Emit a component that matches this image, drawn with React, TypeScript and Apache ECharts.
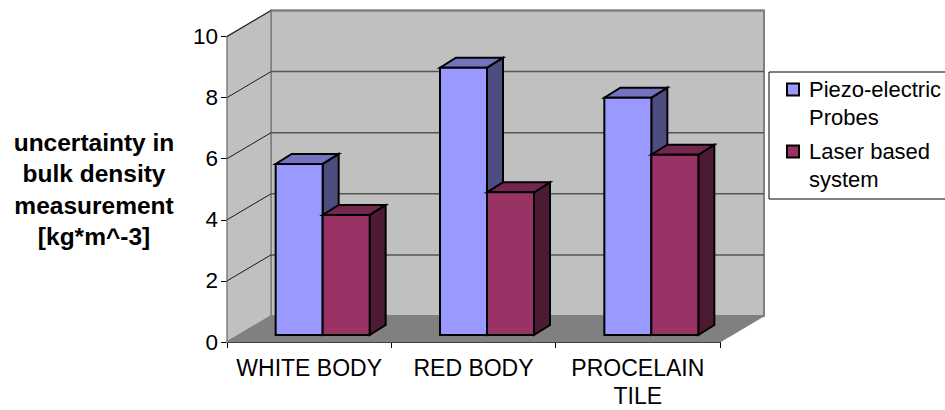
import React, { useEffect, useRef } from "react";
import * as echarts from "echarts";

const categories = ["WHITE BODY", "RED BODY", "PROCELAIN\nTILE"];
const yTicks = [0, 2, 4, 6, 8, 10];
const piezoName = "Piezo-electric\nProbes";
const laserName = "Laser based\nsystem";
const piezoValues = [5.6, 8.75, 7.77];
const laserValues = [3.93, 4.67, 5.9];

const FONT = '"Liberation Sans", Arial, sans-serif';
// Oblique offset from the front plane of the box to its back wall.
const DEPTH_X = 44;
const DEPTH_Y = -26;
// Offset and size of the bars inside the box.
const BAR_DX = 13.5;
const BAR_DY = -7;
const BAR_W = 47;
const BAR_SIDE_X = 16;
const BAR_SIDE_Y = -10;
const BAR_OUTLINE = 2;

const poly = (points: number[][], fill: string, stroke: string, lineWidth: number) => ({
  type: "polygon",
  shape: { points },
  style: { fill, stroke, lineWidth, lineJoin: "miter" },
});

const segment = (a: number[], b: number[], stroke: string, lineWidth: number) => ({
  type: "line",
  shape: { x1: a[0], y1: a[1], x2: b[0], y2: b[1] },
  style: { stroke, lineWidth },
});

function bounds(params: any) {
  const g = params.coordSys;
  return { left: g.x, right: g.x + g.width, top: g.y, bottom: g.y + g.height };
}

// Floor, back wall and side wall of the box.
function renderBox(params: any) {
  const { left, right, top, bottom } = bounds(params);
  return {
    type: "group",
    silent: true,
    children: [
      poly(
        [[left + DEPTH_X, bottom + DEPTH_Y], [right + DEPTH_X, bottom + DEPTH_Y], [right + DEPTH_X, top + DEPTH_Y], [left + DEPTH_X, top + DEPTH_Y]],
        "#C0C0C0", "#808080", 2,
      ),
      poly(
        [[left, bottom], [left + DEPTH_X, bottom + DEPTH_Y], [left + DEPTH_X, top + DEPTH_Y], [left, top]],
        "#C0C0C0", "#808080", 1.5,
      ),
      poly(
        [[left, bottom], [right, bottom], [right + DEPTH_X, bottom + DEPTH_Y], [left + DEPTH_X, bottom + DEPTH_Y]],
        "#808080", "#808080", 1,
      ),
    ],
  };
}

// One grid line per tick value: the slanted part on the side wall, the level part on the back wall.
function renderGridLine(params: any, api: any) {
  const value = api.value(0);
  if (value === 0) return { type: "group", children: [] };
  const { left, right } = bounds(params);
  const y = api.coord([0, value])[1];
  return {
    type: "group",
    silent: true,
    children: [
      segment([left, y], [left + DEPTH_X, y + DEPTH_Y], "#1a1a1a", 1),
      segment([left + DEPTH_X, y + DEPTH_Y], [right + DEPTH_X, y + DEPTH_Y], value === 10 ? "#808080" : "#555555", value === 10 ? 2 : 1.5),
    ],
  };
}

function makeBarRenderer(slot: number, front: string, topFace: string, sideFace: string) {
  return (params: any, api: any) => {
    const catIndex = api.value(0);
    const value = api.value(1);
    const centre = api.coord([catIndex, 0]);
    const valuePoint = api.coord([catIndex, value]);
    const x0 = centre[0] + BAR_DX - BAR_W + slot * BAR_W;
    const x1 = x0 + BAR_W;
    const yBase = centre[1] + BAR_DY;
    const yTop = valuePoint[1] + BAR_DY;
    return {
      type: "group",
      silent: true,
      children: [
        poly([[x1, yBase], [x1 + BAR_SIDE_X, yBase + BAR_SIDE_Y], [x1 + BAR_SIDE_X, yTop + BAR_SIDE_Y], [x1, yTop]], sideFace, "#000000", BAR_OUTLINE),
        poly([[x0, yTop], [x1, yTop], [x1 + BAR_SIDE_X, yTop + BAR_SIDE_Y], [x0 + BAR_SIDE_X, yTop + BAR_SIDE_Y]], topFace, "#000000", BAR_OUTLINE),
        poly([[x0, yBase], [x1, yBase], [x1, yTop], [x0, yTop]], front, "#000000", BAR_OUTLINE),
      ],
    };
  };
}

export default function App() {
  const ref = useRef<HTMLDivElement>(null);

  useEffect(() => {
    const chart = echarts.init(ref.current!, undefined, { renderer: "svg" });
    chart.setOption({
      animation: false,
      backgroundColor: "#FFFFFF",
      textStyle: { fontFamily: FONT },
      grid: { left: 227, right: 225, top: 36.5, bottom: 68, containLabel: false, outerBoundsMode: "none" },
      xAxis: {
        type: "category",
        data: categories,
        boundaryGap: true,
        axisLine: { show: true, onZero: false, lineStyle: { color: "#000000", width: 1 } },
        axisTick: { show: true, alignWithLabel: false, length: 6, lineStyle: { color: "#000000", width: 1 } },
        axisLabel: { interval: 0, color: "#000000", fontFamily: FONT, fontSize: 23, lineHeight: 28, margin: 12, hideOverlap: false },
        splitLine: { show: false },
      },
      yAxis: {
        type: "value",
        min: 0,
        max: 10,
        interval: 2,
        name: "uncertainty in\nbulk density\nmeasurement\n[kg*m^-3]",
        nameLocation: "middle",
        nameGap: 133,
        nameRotate: 0,
        nameMoveOverlap: false,
        nameTextStyle: { color: "#000000", fontFamily: FONT, fontSize: 24.5, fontWeight: "bold", lineHeight: 31.5, align: "center", verticalAlign: "middle" },
        axisLine: { show: true, lineStyle: { color: "#000000", width: 1 } },
        axisTick: { show: true, length: 6, lineStyle: { color: "#000000", width: 1 } },
        axisLabel: { color: "#000000", fontFamily: FONT, fontSize: 22.5, margin: 9 },
        splitLine: { show: false },
      },
      legend: {
        orient: "vertical",
        left: 786,
        top: 47.5,
        padding: 0,
        itemGap: -22,
        itemWidth: 17,
        itemHeight: 12,
        // The square keeps to the left of a wider icon box, which sets the gap before the text.
        icon: "path://M0 0H12V12H0ZM17 0L17 0",
        selectedMode: false,
        data: [piezoName, laserName],
        // The blank first line lifts each name so that its first line sits beside the square.
        formatter: (name: string) => "\n" + name,
        textStyle: { color: "#000000", fontFamily: FONT, fontSize: 22, lineHeight: 28 },
      },
      graphic: [
        {
          type: "rect",
          z: -1,
          shape: { x: 769, y: 72, width: 190, height: 127 },
          style: { fill: "#FFFFFF", stroke: "#000000", lineWidth: 1 },
        },
      ],
      series: [
        { type: "custom", silent: true, z: 1, renderItem: renderBox, data: [[0]], encode: { x: -1, y: -1 }, clip: false, legendHoverLink: false },
        { type: "custom", silent: true, z: 2, renderItem: renderGridLine, data: yTicks.map((v) => [v]), encode: { x: -1, y: 0 }, clip: false },
        {
          type: "custom",
          name: piezoName,
          z: 3,
          clip: false,
          itemStyle: { color: "#9999FF", borderColor: "#000000", borderWidth: 1.5 },
          renderItem: makeBarRenderer(0, "#9999FF", "#7373BF", "#4D4D80"),
          data: piezoValues.map((v, i) => [i, v]),
          encode: { x: 0, y: 1 },
        },
        {
          type: "custom",
          name: laserName,
          z: 3,
          clip: false,
          itemStyle: { color: "#993366", borderColor: "#000000", borderWidth: 1.5 },
          renderItem: makeBarRenderer(1, "#993366", "#732650", "#4D1A33"),
          data: laserValues.map((v, i) => [i, v]),
          encode: { x: 0, y: 1 },
        },
      ],
    });
    return () => chart.dispose();
  }, []);

  return <div ref={ref} style={{ position: "absolute", left: 0, top: 0, width: 945, height: 410 }} />;
}
